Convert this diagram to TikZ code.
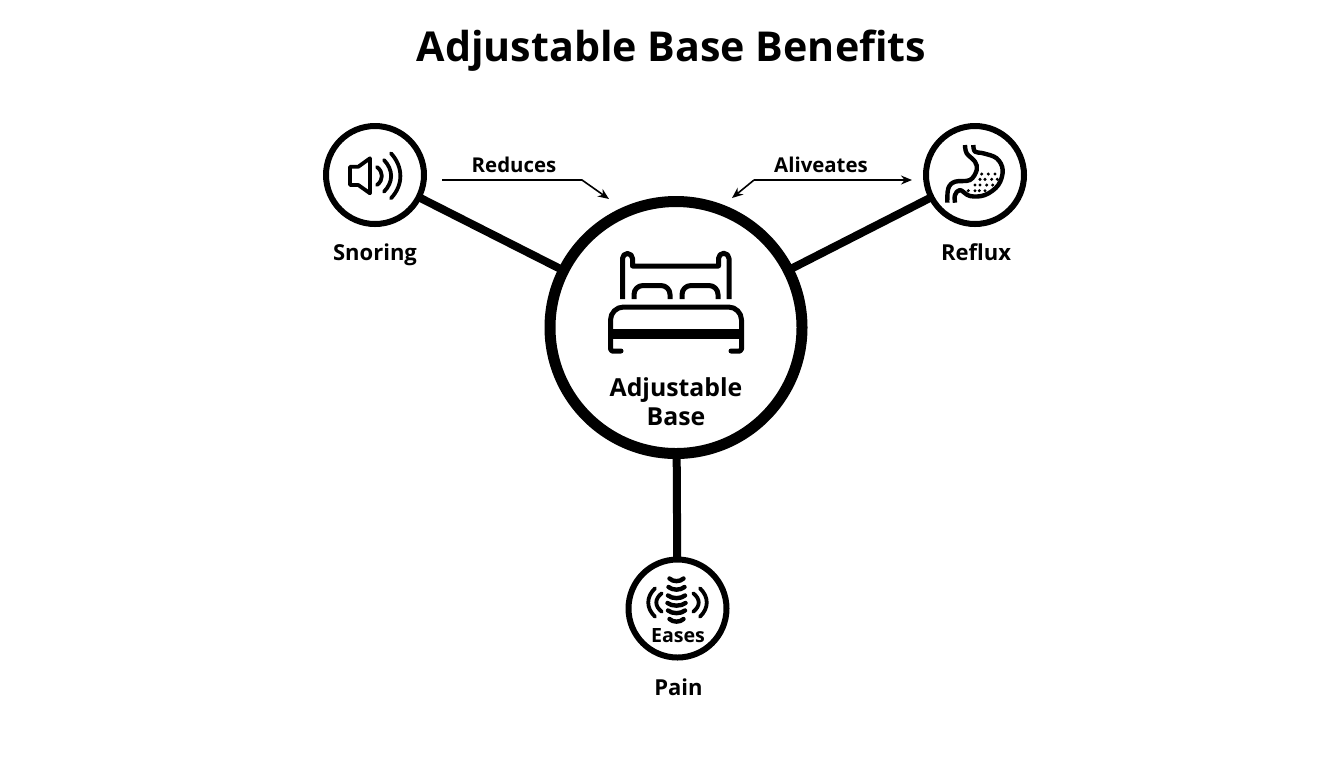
\documentclass[tikz,border=0pt]{standalone}
\usepackage{fontspec}
\setmainfont{Open Sans}
\usetikzlibrary{arrows.meta}
\tikzset{
  px/.style={x=0.5pt,y=-0.5pt},
  hubc/.style={circle,draw=black,line width=5.5pt,minimum size=126pt,inner sep=0pt,outer sep=0pt},
  leaf/.style={circle,draw=black,line width=3pt,minimum size=49pt,inner sep=0pt,outer sep=0pt},
  link/.style={draw=black,line width=4pt},
  thinarrow/.style={draw=black,line width=0.8pt,-{Stealth[length=5.5pt,width=4.5pt]}},
  icon/.style={draw=black,line width=2.5pt,line cap=round,line join=round},
  iconthin/.style={draw=black,line width=1.9pt,line cap=round,line join=round},
  titletext/.style={font=\fontsize{20.6}{24}\selectfont\bfseries},
  nodetext/.style={font=\fontsize{11}{13}\selectfont\bfseries},
  hubtext/.style={font=\fontsize{12.4}{14.5}\selectfont\bfseries,align=center},
  edgetext/.style={font=\fontsize{10.2}{12}\selectfont\bfseries},
}
\begin{document}
\begin{tikzpicture}[px]
\useasboundingbox (0,0) rectangle (1344,768);
\node[titletext] (title) at (671.5,51) {Adjustable Base Benefits};
% nodes
\node[hubc] (hub) at (676,327.5) {};
\node[leaf] (snoring) at (375,175) {};
\node[leaf] (reflux) at (975,175) {};
\node[leaf] (pain) at (677.5,608.5) {};
% connectors
\path[link] (snoring) -- (hub);
\path[link] (reflux) -- (hub);
\path[link] (hub) -- (pain);
% labels
\node[nodetext] (lsnoring) at (375,255) {Snoring};
\node[nodetext] (lreflux) at (976,252) {Reflux};
\node[nodetext] (lpain) at (678.5,687) {Pain};
\node[hubtext] (lhub) at (676,401.5) {Adjustable\\Base};
\node[edgetext] (lreduces) at (514,165) {Reduces};
\node[edgetext] (lalleviates) at (821,165) {Aliveates};
\node[font=\fontsize{9.8}{12}\selectfont\bfseries] (leases) at (678,636) {Eases};
% edge arrows
\coordinate (ra) at (442,180);
\coordinate (rb) at (582,180);
\coordinate (rc) at (609,199);
\coordinate (aa) at (732,198);
\coordinate (ab) at (754,180);
\coordinate (ac) at (912,180);
\path[thinarrow] (ra) -- (rb) -- (rc);
\path[thinarrow] (ab) -- (ac);
\path[thinarrow] (ab) -- (aa);
% bed icon
\draw[icon,line cap=butt] (622.5,299) -- (622.5,258.5) arc (180:360:5) -- (632.5,266) -- (718.5,266) -- (718.5,258.5) arc (180:360:5.25) -- (729,299);
\draw[icon,line cap=butt] (634,299) -- (634,294.5) arc (180:270:9) -- (661,285.5) arc (270:360:9) -- (670,299);
\draw[icon,line cap=butt] (682,299) -- (682,294.5) arc (180:270:9) -- (709,285.5) arc (270:360:9) -- (718,299);
\draw[icon] (621,351) -- (612,351) -- (610.5,349) -- (610.5,320) arc (180:270:13) -- (728.5,307) arc (270:360:13) -- (741.5,349) -- (740,351) -- (731,351);
\fill[black] (610,328.5) rectangle (742,339);
% speaker icon
\draw[iconthin] (350,166.7) -- (358.3,166.7) -- (370,158.3) -- (370,193.3) -- (358.3,185) -- (350,185) -- cycle;
\draw[iconthin] (377,167) .. controls (383.5,172) and (383.5,180) .. (377,185);
\draw[iconthin] (384,160) .. controls (393.5,170) and (393.5,182) .. (384,191.7);
\draw[iconthin] (391,153.3) .. controls (403.5,167) and (403.5,185) .. (391,198.3);
% stomach icon
\draw[icon,line width=2.2pt,line cap=butt] plot[smooth,tension=.6] coordinates {(965,145) (966.7,153.3) (975,161.7) (976.7,170) (970,180) (955,181.7) (948.3,188.3) (947.3,202.7)};
\draw[icon,line width=2.2pt,line cap=butt] plot[smooth,tension=.6] coordinates {(973.3,145) (975,151.7) (983.3,153.3) (996.7,158.3) (1002.7,170) (998.3,185) (985,195) (970,196) (960,190) (955,195) (955,202.7)};
\foreach \x/\y in {981.7/174,988.3/174,995/174,980/179.3,985/179.3,991.7/179.3,997.3/179.3,975/185,980/185,986.7/185,992.7/185,968.3/190.7,975/190.7,979.3/190.7,985/190.7}{
  \fill[black] (\x,\y) circle (1.7);
}
% spine icon
\foreach \y/\w in {580/7,588.5/8,597/8.5,604.5/9,612/8.5,620.5/7}{
  \draw[iconthin,line width=2.2pt] (676.5-\w,\y-1.5) .. controls (676.5-\w/2,\y+2) and (676.5+\w/2,\y+2) .. (676.5+\w,\y-1.5);
}
\draw[iconthin] (655,588.3) .. controls (646,597) and (646,608) .. (655,616.7);
\draw[iconthin] (661.7,593.3) .. controls (654.5,599) and (654.5,606) .. (661.7,611.7);
\draw[iconthin] (693.3,593.3) .. controls (700.5,599) and (700.5,606) .. (693.3,611.7);
\draw[iconthin] (700,588.3) .. controls (709,597) and (709,608) .. (700,616.7);
\end{tikzpicture}
\end{document}
